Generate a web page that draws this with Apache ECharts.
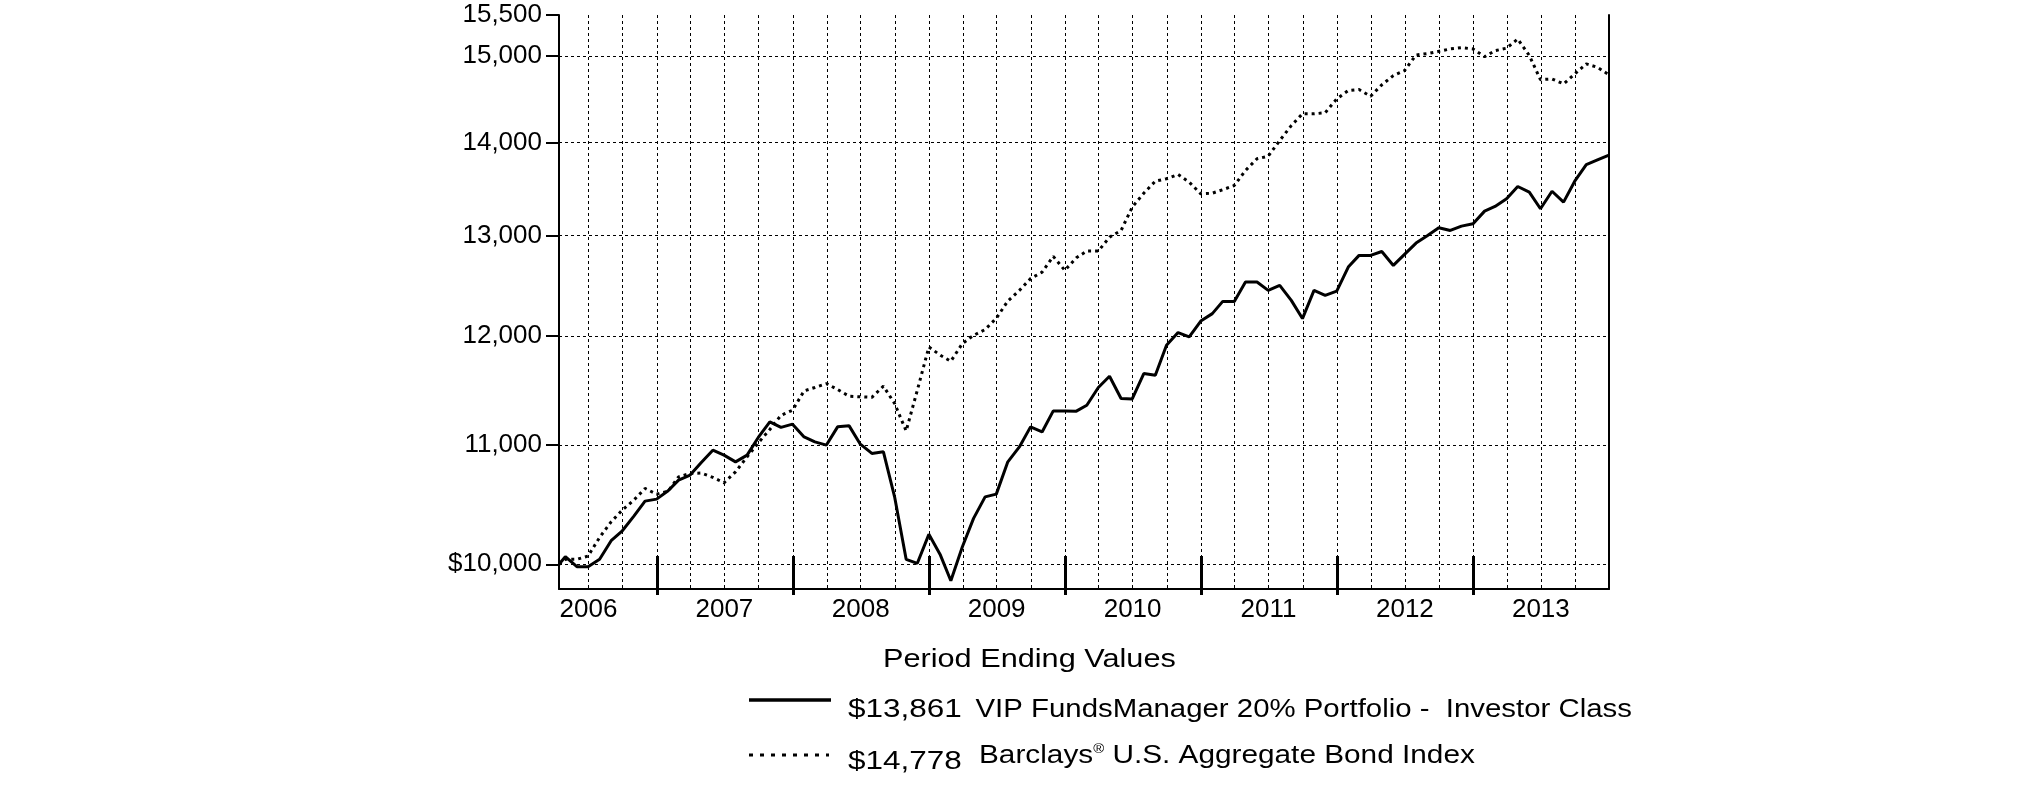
<!DOCTYPE html>
<html><head><meta charset="utf-8">
<script src="https://cdn.jsdelivr.net/npm/echarts@6/dist/echarts.min.js"></script>
<style>html,body{margin:0;padding:0;background:#fff}#c{width:2025px;height:806px}</style>
</head><body><div id="c"></div>
<script>
// ---- data ----
const dates = [
  '2006-04-13','2006-04-30','2006-05-31','2006-06-30','2006-07-31','2006-08-31','2006-09-30','2006-10-31','2006-11-30','2006-12-31',
  '2007-01-31','2007-02-28','2007-03-31','2007-04-30','2007-05-31','2007-06-30','2007-07-31','2007-08-31','2007-09-30','2007-10-31','2007-11-30','2007-12-31',
  '2008-01-31','2008-02-29','2008-03-31','2008-04-30','2008-05-31','2008-06-30','2008-07-31','2008-08-31','2008-09-30','2008-10-31','2008-11-30','2008-12-31',
  '2009-01-31','2009-02-28','2009-03-31','2009-04-30','2009-05-31','2009-06-30','2009-07-31','2009-08-31','2009-09-30','2009-10-31','2009-11-30','2009-12-31',
  '2010-01-31','2010-02-28','2010-03-31','2010-04-30','2010-05-31','2010-06-30','2010-07-31','2010-08-31','2010-09-30','2010-10-31','2010-11-30','2010-12-31',
  '2011-01-31','2011-02-28','2011-03-31','2011-04-30','2011-05-31','2011-06-30','2011-07-31','2011-08-31','2011-09-30','2011-10-31','2011-11-30','2011-12-31',
  '2012-01-31','2012-02-29','2012-03-31','2012-04-30','2012-05-31','2012-06-30','2012-07-31','2012-08-31','2012-09-30','2012-10-31','2012-11-30','2012-12-31',
  '2013-01-31','2013-02-28','2013-03-31','2013-04-30','2013-05-31','2013-06-30','2013-07-31','2013-08-31','2013-09-30','2013-10-31','2013-11-30','2013-12-31'
];
const fundValues = [
  10000, 10061, 9981, 9981, 10040, 10190, 10271, 10392, 10517, 10534,
  10604, 10695, 10738, 10847, 10953, 10910, 10852, 10910, 11065, 11203, 11154, 11183,
  11070, 11026, 10998, 11159, 11168, 11006, 10925, 10939, 10553, 10040, 10008, 10242,
  10074, 9870, 10141, 10373, 10553, 10576, 10852, 10982, 11159, 11114, 11302, 11302,
  11300, 11353, 11515, 11619, 11414, 11410, 11644, 11628, 11909, 12031, 11989, 12142,
  12214, 12334, 12334, 12526, 12526, 12443, 12492, 12344, 12166, 12443, 12394, 12436,
  12676, 12795, 12795, 12835, 12693, 12805, 12921, 13000, 13080, 13052, 13097, 13122,
  13255, 13304, 13386, 13518, 13457, 13280, 13467, 13350, 13575, 13757, 13808, 13861
];
const bondValues = [
  10000, 10040, 10040, 10066, 10217, 10345, 10442, 10526, 10624, 10576,
  10601, 10723, 10752, 10755, 10718, 10672, 10766, 10895, 11017, 11136, 11263, 11308,
  11484, 11515, 11551, 11496, 11435, 11430, 11425, 11527, 11369, 11123, 11490, 11893,
  11815, 11759, 11926, 12004, 12060, 12169, 12337, 12443, 12560, 12625, 12785, 12643,
  12771, 12839, 12839, 12983, 13052, 13297, 13446, 13575, 13602, 13648, 13565, 13439,
  13446, 13483, 13529, 13691, 13820, 13849, 14023, 14191, 14325, 14325, 14337, 14497,
  14593, 14605, 14527, 14660, 14769, 14828, 15014, 15030, 15057, 15086, 15101, 15086,
  14993, 15065, 15095, 15206, 15008, 14721, 14729, 14671, 14788, 14907, 14866, 14778
];
const yTickValues = [10000, 11000, 12000, 13000, 14000, 15000, 15500];
const yGridValues = [10000, 11000, 12000, 13000, 14000, 15000];
const yearLabels = ['2006', '2007', '2008', '2009', '2010', '2011', '2012', '2013'];
const yearBoundaries = ['2007-01-01', '2008-01-01', '2009-01-01', '2010-01-01', '2011-01-01', '2012-01-01', '2013-01-01'];
const axisStart = '2006-04-13';
const axisEnd = '2013-12-31';
const legendTitle = 'Period Ending Values';
const seriesNames = ['VIP FundsManager 20% Portfolio -  Investor Class', 'Barclays{r|®} U.S. Aggregate Bond Index'];
const endingValues = ['$13,861', '$14,778'];

// ---- helpers ----
const ts = s => { const p = s.split('-').map(Number); return Date.UTC(p[0], p[1] - 1, p[2]); };
const xMin = ts(axisStart), xMax = ts(axisEnd);
const quarterLines = [];
yearLabels.forEach(y => ['01', '04', '07', '10'].forEach(m => {
  const t = ts(y + '-' + m + '-01'); if (t > xMin && t < xMax) quarterLines.push(t);
}));
const labelPos = yearLabels.map(y => ts(y + '-07-01'));
const fmtY = v => (v === 10000 ? '$' : '') + Math.round(v).toLocaleString('en-US');
const FONT = 'Liberation Sans';

const chart = echarts.init(document.getElementById('c'));
const xBase = { type: 'value', min: xMin, max: xMax, gridIndex: 0, position: 'bottom' };
const yBase = { type: 'log', logBase: 10, min: 9805, max: 15500, gridIndex: 0 };
const dotted = { color: '#000', width: 1, type: [3, 3] };

chart.setOption({
  animation: false,
  backgroundColor: '#fff',
  grid: { left: 559, top: 15, width: 1050, height: 574, containLabel: false },
  xAxis: [
    Object.assign({}, xBase, {
      axisLine: { show: true, onZero: false, lineStyle: { color: '#000', width: 2 } },
      axisTick: { show: true, inside: true, length: 33, customValues: yearBoundaries.map(ts), lineStyle: { color: '#000', width: 3 } },
      axisLabel: { show: true, customValues: labelPos, formatter: v => String(new Date(v).getUTCFullYear()),
        fontSize: 26, fontFamily: FONT, color: '#000', margin: 8 },
      splitLine: { show: false }
    }),
    Object.assign({}, xBase, {
      axisLine: { show: false, onZero: false },
      axisTick: { show: false, customValues: quarterLines },
      axisLabel: { show: false },
      splitLine: { show: true, lineStyle: dotted }
    }),
    Object.assign({}, xBase, {
      axisLine: { show: false, onZero: false },
      axisTick: { show: true, inside: false, length: 6, customValues: yearBoundaries.map(ts), lineStyle: { color: '#000', width: 3 } },
      axisLabel: { show: false },
      splitLine: { show: false }
    })
  ],
  yAxis: [
    Object.assign({}, yBase, {
      position: 'left',
      axisLine: { show: true, onZero: false, lineStyle: { color: '#000', width: 2 } },
      axisTick: { show: true, inside: false, length: 13, customValues: yTickValues, lineStyle: { color: '#000', width: 2 } },
      axisLabel: { show: true, customValues: yTickValues, formatter: fmtY, fontSize: 26, fontFamily: FONT, color: '#000', margin: 17 },
      splitLine: { show: false }
    }),
    Object.assign({}, yBase, {
      position: 'right',
      axisLine: { show: true, onZero: false, lineStyle: { color: '#000', width: 2 } },
      axisTick: { show: false, customValues: yGridValues },
      axisLabel: { show: false },
      splitLine: { show: true, lineStyle: dotted }
    })
  ],
  series: [
    { name: 'bond', type: 'line', xAxisIndex: 0, yAxisIndex: 0, showSymbol: false, symbol: 'none',
      data: dates.map((d, i) => [ts(d), bondValues[i]]),
      lineStyle: { color: '#000', width: 3, type: [3, 4] }, z: 3 },
    { name: 'fund', type: 'line', xAxisIndex: 0, yAxisIndex: 0, showSymbol: false, symbol: 'none',
      data: dates.map((d, i) => [ts(d), fundValues[i]]),
      lineStyle: { color: '#000', width: 3 }, z: 4 }
  ],
  graphic: [
    { type: 'text', x: 883, y: 660, scaleX: 1.18, style: { text: legendTitle, fontSize: 26, fontFamily: FONT, fill: '#000', align: 'left', verticalAlign: 'middle' } },
    { type: 'line', shape: { x1: 749, y1: 700, x2: 831, y2: 700 }, style: { stroke: '#000', lineWidth: 3.5 } },
    { type: 'text', x: 848, y: 710, scaleX: 1.21, style: { text: endingValues[0], fontSize: 26, fontFamily: FONT, fill: '#000', align: 'left', verticalAlign: 'middle' } },
    { type: 'text', x: 975.5, y: 710, scaleX: 1.13, style: { text: seriesNames[0], fontSize: 26, fontFamily: FONT, fill: '#000', align: 'left', verticalAlign: 'middle' } },
    { type: 'line', shape: { x1: 749, y1: 755, x2: 829, y2: 755 }, style: { stroke: '#000', lineWidth: 3, lineDash: [4, 7] } },
    { type: 'text', x: 848, y: 762, scaleX: 1.21, style: { text: endingValues[1], fontSize: 26, fontFamily: FONT, fill: '#000', align: 'left', verticalAlign: 'middle' } },
    { type: 'text', x: 979, y: 756, scaleX: 1.145, style: { text: seriesNames[1], fontSize: 26, fontFamily: FONT, fill: '#000', align: 'left', verticalAlign: 'middle',
        rich: { r: { fontSize: 13, fontFamily: FONT, fill: '#000', verticalAlign: 'top' } } } }
  ]
});
</script></body></html>
